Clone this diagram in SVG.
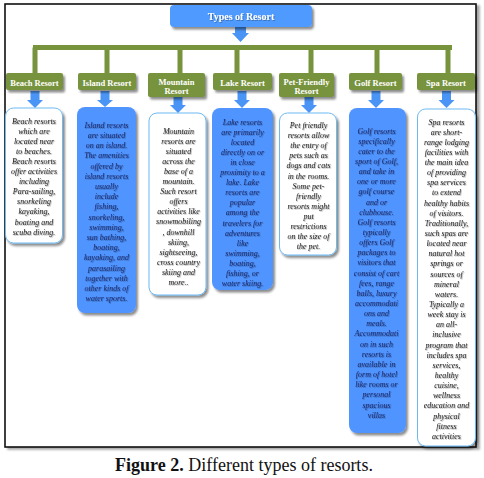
<svg xmlns="http://www.w3.org/2000/svg" width="484" height="478" viewBox="0 0 484 478">
<defs>
<filter id="bs" x="-20%" y="-10%" width="140%" height="130%"><feDropShadow dx="2" dy="2.5" stdDeviation="1.2" flood-color="#000" flood-opacity="0.45"/></filter>
<filter id="ts" x="-10%" y="-20%" width="120%" height="150%"><feDropShadow dx="0.8" dy="0.8" stdDeviation="0.5" flood-color="#000" flood-opacity="0.35"/></filter>
<filter id="fs" x="-2%" y="-2%" width="104%" height="104%"><feDropShadow dx="3" dy="2" stdDeviation="1" flood-color="#000" flood-opacity="0.35"/></filter>
</defs>
<style>
.frame{fill:#fff;stroke:#111;stroke-width:1.6}
.top{fill:#4F9AFF}
.grn{fill:#77933C}
.blue{fill:#4F94FF}
.arr{fill:#4A94F5}
.wbox{fill:#fff;stroke:#6DB9F2;stroke-width:1}
.bbox{fill:#4F94FF}
.hdr{font-family:"Liberation Serif",serif;font-weight:bold;font-size:8.5px;fill:#fff;text-anchor:middle}
.ttl{font-family:"Liberation Serif",serif;font-weight:bold;font-size:10px;fill:#fff;text-anchor:middle}
.tw{font-family:"Liberation Serif",serif;font-style:italic;font-size:8px;fill:#1b1b1b;text-anchor:middle}
.tb{font-family:"Liberation Serif",serif;font-style:italic;font-size:8px;fill:#1c2868;text-anchor:middle}
.cap{font-family:"Liberation Serif",serif;font-size:18px;fill:#111;text-anchor:middle}
.bar{stroke:#77933C;stroke-width:5;fill:none}
</style>
<rect class="frame" x="5" y="4" width="471" height="443" filter="url(#fs)"/>
<g id="connectors">
<path class="bar" d="M33 47.5H452M35 47.5V73M107 47.5V73M180 47.5V73M237 47.5V73M311 47.5V73M377 47.5V73M448 47.5V73"/>
<path class="arr" d="M235 27H246V33H249L240.5 42L232 33H235Z"/>
<path class="arr" d="M30.5 91H39.5V100H43L35 108L27 100H30.5Z"/>
<path class="arr" d="M100.5 91H109.5V100H113L105 107L97 100H100.5Z"/>
<path class="arr" d="M173.5 97H182.5V105H186L178 113L170 105H173.5Z"/>
<path class="arr" d="M237.5 91H246.5V100H250L242 108L234 100H237.5Z"/>
<path class="arr" d="M304.5 97H313.5V105H317L309 113L301 105H304.5Z"/>
<path class="arr" d="M371.5 91H380.5V100H384L376 108L368 100H371.5Z"/>
<path class="arr" d="M442 91H451V100H454.5L446.5 108L438.5 100H442Z"/>
</g>
<g id="root">
<rect class="top" x="170" y="5" width="142" height="22" rx="4" filter="url(#bs)"/>
<text class="ttl" x="241" y="20" filter="url(#ts)">Types of Resort</text>
</g>
<g id="beach-h"><rect class="grn" x="6" y="73" width="57" height="17" rx="2" filter="url(#bs)"/><text class="hdr" x="34.5" y="85.5">Beach Resort</text></g>
<g id="island-h"><rect class="grn" x="78" y="73" width="58" height="17" rx="2" filter="url(#bs)"/><text class="hdr" x="107" y="85.5">Island Resort</text></g>
<g id="mountain-h"><rect class="grn" x="148" y="73" width="57" height="24" rx="2" filter="url(#bs)"/><text class="hdr" x="176.5" y="84.5">Mountain</text><text class="hdr" x="176.5" y="93.5">Resort</text></g>
<g id="lake-h"><rect class="grn" x="213" y="73" width="59" height="17" rx="2" filter="url(#bs)"/><text class="hdr" x="242.5" y="85.5">Lake Resort</text></g>
<g id="pet-h"><rect class="grn" x="279" y="73" width="55" height="24" rx="2" filter="url(#bs)"/><text class="hdr" x="306.5" y="84.5">Pet-Friendly</text><text class="hdr" x="306.5" y="93.5">Resort</text></g>
<g id="golf-h"><rect class="grn" x="349" y="73" width="53" height="17" rx="2" filter="url(#bs)"/><text class="hdr" x="375.5" y="85.5">Golf Resort</text></g>
<g id="spa-h"><rect class="grn" x="417" y="73" width="58" height="17" rx="2" filter="url(#bs)"/><text class="hdr" x="446" y="85.5">Spa Resort</text></g>

<g id="beach">
<rect class="wbox" x="5.5" y="108" width="57" height="135" rx="8" filter="url(#bs)"/>
<text class="tw" x="34" y="123.5" filter="url(#ts)"><tspan x="34">Beach resorts</tspan><tspan x="34" dy="10.1">which are</tspan><tspan x="34" dy="10.1">located near</tspan><tspan x="34" dy="10.1">to beaches.</tspan><tspan x="34" dy="10.1">Beach resorts</tspan><tspan x="34" dy="10.1">offer activities</tspan><tspan x="34" dy="10.1">including</tspan><tspan x="34" dy="10.1">Para-sailing,</tspan><tspan x="34" dy="10.1">snorkeling</tspan><tspan x="34" dy="10.1">kayaking,</tspan><tspan x="34" dy="10.1">boating and</tspan><tspan x="34" dy="10.1">scuba diving.</tspan></text>
</g>
<g id="island">
<rect class="bbox" x="77" y="107" width="59" height="206" rx="8" filter="url(#bs)"/>
<text class="tb" x="106.5" y="127.8" filter="url(#ts)"><tspan x="106.5">Island resorts</tspan><tspan x="106.5" dy="10.2">are situated</tspan><tspan x="106.5" dy="10.2">on an island.</tspan><tspan x="106.5" dy="10.2">The amenities</tspan><tspan x="106.5" dy="10.2">offered by</tspan><tspan x="106.5" dy="10.2">island resorts</tspan><tspan x="106.5" dy="10.2">usually</tspan><tspan x="106.5" dy="10.2">include</tspan><tspan x="106.5" dy="10.2">fishing,</tspan><tspan x="106.5" dy="10.2">snorkeling,</tspan><tspan x="106.5" dy="10.2">swimming,</tspan><tspan x="106.5" dy="10.2">sun bathing,</tspan><tspan x="106.5" dy="10.2">boating,</tspan><tspan x="106.5" dy="10.2">kayaking, and</tspan><tspan x="106.5" dy="10.2">parasailing</tspan><tspan x="106.5" dy="10.2">together with</tspan><tspan x="106.5" dy="10.2">other kinds of</tspan><tspan x="106.5" dy="10.2">water sports.</tspan></text>
</g>
<g id="mountain">
<rect class="wbox" x="149" y="113" width="57" height="182" rx="8" filter="url(#bs)"/>
<text class="tw" x="178.5" y="133.5" filter="url(#ts)"><tspan x="178.5">Mountain</tspan><tspan x="178.5" dy="10.1">resorts are</tspan><tspan x="178.5" dy="10.1">situated</tspan><tspan x="178.5" dy="10.1">across the</tspan><tspan x="178.5" dy="10.1">base of a</tspan><tspan x="178.5" dy="10.1">mountain.</tspan><tspan x="178.5" dy="10.1">Such resort</tspan><tspan x="178.5" dy="10.1">offers</tspan><tspan x="178.5" dy="10.1">activities like</tspan><tspan x="178.5" dy="10.1">snowmobiling</tspan><tspan x="178.5" dy="10.1">, downhill</tspan><tspan x="178.5" dy="10.1">skiing,</tspan><tspan x="178.5" dy="10.1">sightseeing,</tspan><tspan x="178.5" dy="10.1">cross country</tspan><tspan x="178.5" dy="10.1">skiing and</tspan><tspan x="178.5" dy="10.1">more..</tspan></text>
</g>
<g id="lake">
<rect class="bbox" x="212" y="108" width="61" height="182" rx="8" filter="url(#bs)"/>
<text class="tb" x="242.5" y="124.5" filter="url(#ts)"><tspan x="242.5">Lake resorts</tspan><tspan x="242.5" dy="10.1">are primarily</tspan><tspan x="242.5" dy="10.1">located</tspan><tspan x="242.5" dy="10.1">directly on or</tspan><tspan x="242.5" dy="10.1">in close</tspan><tspan x="242.5" dy="10.1">proximity to a</tspan><tspan x="242.5" dy="10.1">lake. Lake</tspan><tspan x="242.5" dy="10.1">resorts are</tspan><tspan x="242.5" dy="10.1">popular</tspan><tspan x="242.5" dy="10.1">among the</tspan><tspan x="242.5" dy="10.1">travelers for</tspan><tspan x="242.5" dy="10.1">adventures</tspan><tspan x="242.5" dy="10.1">like</tspan><tspan x="242.5" dy="10.1">swimming,</tspan><tspan x="242.5" dy="10.1">boating,</tspan><tspan x="242.5" dy="10.1">fishing, or</tspan><tspan x="242.5" dy="10.1">water skiing.</tspan></text>
</g>
<g id="pet">
<rect class="wbox" x="279.5" y="113" width="57" height="142" rx="8" filter="url(#bs)"/>
<text class="tw" x="308.5" y="127.8" filter="url(#ts)"><tspan x="308.5">Pet friendly</tspan><tspan x="308.5" dy="10.14">resorts allow</tspan><tspan x="308.5" dy="10.14">the entry of</tspan><tspan x="308.5" dy="10.14">pets such as</tspan><tspan x="308.5" dy="10.14">dogs and cats</tspan><tspan x="308.5" dy="10.14">in the rooms.</tspan><tspan x="308.5" dy="10.14">Some pet-</tspan><tspan x="308.5" dy="10.14">friendly</tspan><tspan x="308.5" dy="10.14">resorts might</tspan><tspan x="308.5" dy="10.14">put</tspan><tspan x="308.5" dy="10.14">restrictions</tspan><tspan x="308.5" dy="10.14">on the size of</tspan><tspan x="308.5" dy="10.14">the pet.</tspan></text>
</g>
<g id="golf">
<rect class="bbox" x="349" y="108" width="57" height="325" rx="8" filter="url(#bs)"/>
<text class="tb" x="376.5" y="133.5" filter="url(#ts)"><tspan x="376.5">Golf resorts</tspan><tspan x="376.5" dy="10.15">specifically</tspan><tspan x="376.5" dy="10.15">cater to the</tspan><tspan x="376.5" dy="10.15">sport of Golf,</tspan><tspan x="376.5" dy="10.15">and take in</tspan><tspan x="376.5" dy="10.15">one or more</tspan><tspan x="376.5" dy="10.15">golf course</tspan><tspan x="376.5" dy="10.15">and or</tspan><tspan x="376.5" dy="10.15">clubhouse.</tspan><tspan x="376.5" dy="10.15">Golf resorts</tspan><tspan x="376.5" dy="10.15">typically</tspan><tspan x="376.5" dy="10.15">offers Golf</tspan><tspan x="376.5" dy="10.15">packages to</tspan><tspan x="376.5" dy="10.15">visitors that</tspan><tspan x="376.5" dy="10.15">consist of cart</tspan><tspan x="376.5" dy="10.15">fees, range</tspan><tspan x="376.5" dy="10.15">balls, luxury</tspan><tspan x="376.5" dy="10.15">accommodati</tspan><tspan x="376.5" dy="10.15">ons and</tspan><tspan x="376.5" dy="10.15">meals.</tspan><tspan x="376.5" dy="10.15">Accommodati</tspan><tspan x="376.5" dy="10.15">on in such</tspan><tspan x="376.5" dy="10.15">resorts is</tspan><tspan x="376.5" dy="10.15">available in</tspan><tspan x="376.5" dy="10.15">form of hotel</tspan><tspan x="376.5" dy="10.15">like rooms or</tspan><tspan x="376.5" dy="10.15">personal</tspan><tspan x="376.5" dy="10.15">spacious</tspan><tspan x="376.5" dy="10.15">villas</tspan></text>
</g>
<g id="spa">
<rect class="wbox" x="417.5" y="109" width="58" height="337" rx="8" filter="url(#bs)"/>
<text class="tw" x="446.5" y="124.5" filter="url(#ts)"><tspan x="446.5">Spa resorts</tspan><tspan x="446.5" dy="10.14">are short-</tspan><tspan x="446.5" dy="10.14">range lodging</tspan><tspan x="446.5" dy="10.14">facilities with</tspan><tspan x="446.5" dy="10.14">the main idea</tspan><tspan x="446.5" dy="10.14">of providing</tspan><tspan x="446.5" dy="10.14">spa services</tspan><tspan x="446.5" dy="10.14">to extend</tspan><tspan x="446.5" dy="10.14">healthy habits</tspan><tspan x="446.5" dy="10.14">of visitors.</tspan><tspan x="446.5" dy="10.14">Traditionally,</tspan><tspan x="446.5" dy="10.14">such spas are</tspan><tspan x="446.5" dy="10.14">located near</tspan><tspan x="446.5" dy="10.14">natural hot</tspan><tspan x="446.5" dy="10.14">springs or</tspan><tspan x="446.5" dy="10.14">sources of</tspan><tspan x="446.5" dy="10.14">mineral</tspan><tspan x="446.5" dy="10.14">waters.</tspan><tspan x="446.5" dy="10.14">Typically a</tspan><tspan x="446.5" dy="10.14">week stay is</tspan><tspan x="446.5" dy="10.14">an all-</tspan><tspan x="446.5" dy="10.14">inclusive</tspan><tspan x="446.5" dy="10.14">program that</tspan><tspan x="446.5" dy="10.14">includes spa</tspan><tspan x="446.5" dy="10.14">services,</tspan><tspan x="446.5" dy="10.14">healthy</tspan><tspan x="446.5" dy="10.14">cuisine,</tspan><tspan x="446.5" dy="10.14">wellness</tspan><tspan x="446.5" dy="10.14">education and</tspan><tspan x="446.5" dy="10.14">physical</tspan><tspan x="446.5" dy="10.14">fitness</tspan><tspan x="446.5" dy="10.14">activities</tspan></text>
</g>
<text class="cap" x="244" y="471"><tspan font-weight="bold">Figure 2.</tspan> Different types of resorts.</text>
</svg>
